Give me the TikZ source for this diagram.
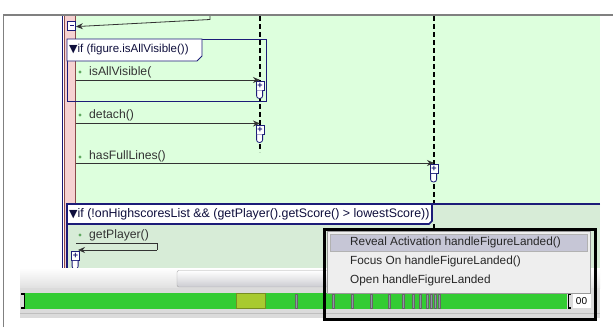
\documentclass[tikz,border=0pt]{standalone}
\usepackage{fontspec}
\setmainfont{Liberation Sans}
\newfontfamily\symfont{DejaVu Sans}
\usetikzlibrary{arrows.meta, positioning}

\definecolor{diagramgreen}{HTML}{DDFFDD}
\definecolor{framefill}{HTML}{D7ECD7}
\definecolor{framenavy}{HTML}{1C1C78}
\definecolor{lifepink}{HTML}{F6D2D2}
\definecolor{liferim}{HTML}{8A4A4A}
\definecolor{dotgreen}{HTML}{5FA85F}
\definecolor{barframe}{HTML}{33CC33}
\definecolor{thumbsel}{HTML}{A8CA30}
\definecolor{menugray}{HTML}{EEEEEE}
\definecolor{menuhi}{HTML}{C6C6D6}
\definecolor{markgray}{HTML}{8C98A8}

\tikzset{
  lifeline/.style={line width=1.8pt, dash pattern=on 5pt off 3pt},
  msg/.style={draw=black!80, line width=0.8pt, -{Stealth[length=7pt,width=6pt]}},
  plusbox/.style={draw=framenavy, fill=white, line width=0.8pt, minimum width=8pt,
    minimum height=9pt, inner sep=0pt, text=framenavy, font=\fontsize{9}{9}\selectfont\bfseries},
  stub/.style={draw=framenavy, fill=white, line width=0.8pt, rounded corners=2.5pt},
  msglabel/.style={anchor=west, inner sep=0pt, text=black!80, font=\fontsize{12.2}{14}\selectfont},
  frametab/.style={anchor=west, inner sep=0pt, text=framenavy!50!black, font=\fontsize{11.5}{13}\selectfont},
  menuitem/.style={anchor=west, inner sep=0pt, text=black!85, font=\fontsize{11.8}{14}\selectfont},
  marker/.style={draw=black!60, fill=markgray, line width=0.4pt},
}

% rounded foot under an activation box
\newcommand\actstub[1]{\draw[stub] ([xshift=1pt]#1.south west) -- ++(0,8) -- ++(6,0) -- ++(0,-8);}
\newcommand\tri{{\symfont\fontsize{11}{11}\selectfont ▼}}

\begin{document}
\begin{tikzpicture}[x=1pt, y=-1pt]
  \useasboundingbox (0,0) rectangle (613,327);
  \fill[white] (0,0) rectangle (613,327);

  % canvas and window border
  \fill[diagramgreen] (76,16) rectangle (600,268);
  \draw[black!50, line width=1.5pt] (3.5,327) -- (3.5,15) -- (613,15);

  % caller lifeline band
  \fill[lifepink] (64.5,16) rectangle (75.5,268);
  \draw[framenavy, line width=1pt] (62,16) -- (62,268);
  \draw[liferim, line width=0.8pt] (64.5,16) -- (64.5,268);
  \draw[liferim, line width=0.8pt] (75.5,16) -- (75.5,268);

  % callee lifelines
  \coordinate (ll1top) at (260,16);
  \coordinate (ll1bot) at (260,152);
  \coordinate (ll2top) at (434,16);
  \coordinate (ll2bot) at (434,268);
  \draw[lifeline] (ll1top) -- (ll1bot);
  \draw[lifeline] (ll2top) -- (ll2bot);

  % return from the previous call
  \coordinate (ret0) at (210,16);
  \node[plusbox, minimum height=9pt] (fold0) at (71.5,25.5) {};
  \draw[framenavy, line width=1pt] ([xshift=2pt]fold0.center) -- ([xshift=-2pt]fold0.center);
  \draw[msg] (ret0) -- ++(0,3.5) -- ([yshift=-6pt]fold0.north east);

  % first combined fragment
  \node[draw=framenavy, line width=0.9pt, minimum width=199pt, minimum height=61.5pt,
    anchor=north west, inner sep=0pt] (frag1) at (67,39) {};
  \draw[framenavy, line width=0.9pt, fill=white] (67,39) -- (202,39) -- (202,56) -- (197,61) -- (67,61) -- cycle;
  \node[frametab] (cond1) at (69,50) {\tri if (figure.isAllVisible())};

  % isAllVisible(
  \fill[dotgreen] (80,72) circle (1.6);
  \node[msglabel] (m1) at (89,72) {isAllVisible(};
  \coordinate (src1) at (76,80);
  \node[plusbox] (act1) at (260,85.5) {+};
  \actstub{act1}
  \draw[msg] (src1) -- (src1 -| act1.north);

  % detach()
  \fill[dotgreen] (80,115) circle (1.6);
  \node[msglabel] (m2) at (89,115) {detach()};
  \coordinate (src2) at (76,123.5);
  \node[plusbox] (act2) at (260,129.5) {+};
  \actstub{act2}
  \draw[msg] (src2) -- (src2 -| act2.north);

  % hasFullLines()
  \fill[dotgreen] (80,157) circle (1.6);
  \node[msglabel] (m3) at (89,156) {hasFullLines()};
  \coordinate (src3) at (76,163);
  \node[plusbox] (act3) at (434,169) {+};
  \actstub{act3}
  \draw[msg] (src3) -- (src3 -| act3.north);

  % second combined fragment
  \fill[framefill] (67,204) rectangle (600,268);
  \draw[lifeline] (434,224) -- (ll2bot);
  \draw[framenavy, line width=2pt] (600,204) -- (67,204) -- (67,268);
  \draw[framenavy, line width=1.6pt, fill=white] (67,204) -- (432,204) -- (432,221) -- (429,224) -- (67,224) -- cycle;
  \node[frametab, font=\fontsize{12.4}{14}\selectfont] (cond2) at (69,214.5)
    {\tri if (!onHighscoresList \&\& (getPlayer().getScore() > lowestScore))};

  % getPlayer() self call
  \fill[dotgreen] (80,235) circle (1.6);
  \node[msglabel] (m4) at (89,235) {getPlayer()};
  \node[plusbox] (act4) at (75.5,256) {+};
  \coordinate (self4a) at (157,243);
  \coordinate (self4b) at (157,250);
  \draw[black!80, line width=0.8pt] (76,243) -- (self4a) -- (self4b);
  \draw[msg] (self4b) -- (78,250);
  \actstub{act4}

  % overview strip
  \shade[top color=white, bottom color=black!12] (20,268) rectangle (600,288);
  \draw[draw=black!35, top color=white, bottom color=blue!10!black!20, rounded corners=2pt]
    (177,270.5) rectangle (560,287);
  \fill[black!14] (20,288) rectangle (600,318);
  \draw[black!25] (20,313) -- (600,313);
  \fill[barframe] (24,293) rectangle (567,309);
  \draw[thumbsel!70!black, fill=thumbsel] (236,293.5) rectangle (265.5,308.5);
  \foreach \mx in {296,333,352,371,389,403,413,420,427,431,435,439}
    \draw[marker] (\mx-1,294) rectangle (\mx+1,308);
  \draw[black, line width=1.6pt] (21,294) -- (24.5,294) -- (24.5,308) -- (21,308);
  \draw[black, line width=1.6pt] (571,294) -- (568.5,294) -- (568.5,308) -- (571,308);
  \node[fill=white, inner sep=1pt, minimum width=18pt, minimum height=14pt,
    font=\fontsize{10}{10}\selectfont] (zoomval) at (581.5,301) {00};

  % context menu
  \node[draw=black!40, fill=menugray, minimum width=263pt, minimum height=62pt,
    anchor=north west, inner sep=0pt] (menu) at (327,231) {};
  \node[draw=black!30, fill=menuhi, minimum width=257pt, minimum height=17pt,
    anchor=north west, inner sep=0pt] (menusel) at (330,234) {};
  \node[menuitem] (item1) at (350,242.5) {Reveal Activation handleFigureLanded()};
  \node[menuitem] (item2) at (350,261.5) {Focus On handleFigureLanded()};
  \node[menuitem] (item3) at (350,280.5) {Open handleFigureLanded};
  \draw[black, line width=3pt] (324.5,229) rectangle (595.5,319.5);
\end{tikzpicture}
\end{document}
